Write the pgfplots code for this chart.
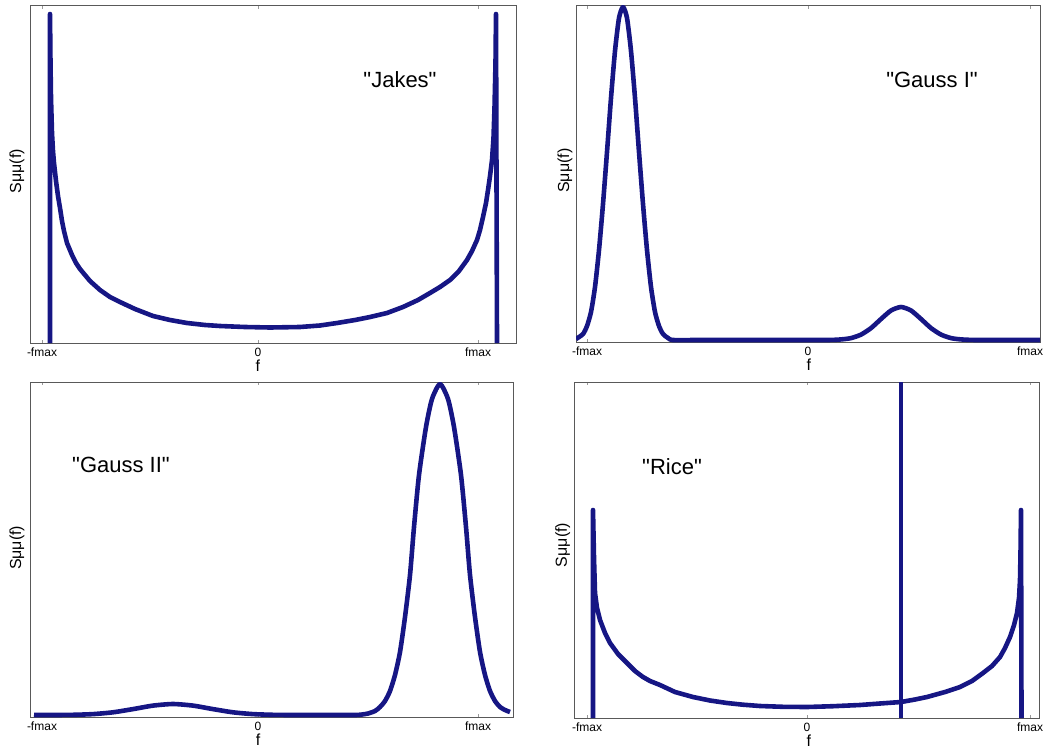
\documentclass[border=0pt]{standalone}
\usepackage{pgfplots}
\pgfplotsset{compat=1.18}
\usepackage{fontspec}
\setmainfont{Liberation Sans}
\newfontfamily\qf{Liberation Sans}
\definecolor{navy}{RGB}{22,22,132}
\newcommand{\q}{{\qf"}}
\pgfplotsset{
  panel/.style={
    scale only axis,
    axis line style={black!65, line width=0.5pt},
    ytick=\empty,
    xticklabels={-fmax,0,fmax},
    tick style={black!40, line width=0.4pt},
    major tick length=1.5pt,
    xticklabel style={font=\fontsize{6}{7}\selectfont, inner sep=1pt, yshift=-1.2pt},
    label style={font=\fontsize{8}{9}\selectfont},
    xlabel={f}, ylabel={Sμμ(f)},
    ymin=0,
    cycle list={{navy, line width=2.3pt, line join=round, mark=none}},
  },
}
\begin{document}
\begin{tikzpicture}
\useasboundingbox (0,0) rectangle (521.5pt,-374.5pt);
% Top left: Jakes
\begin{axis}[panel, anchor=south west, at={(15pt,-171.5pt)},
  width=243pt, height=168.5pt, xmin=30, xmax=516, ymax=337,
  xtick={42,258,478},
  xlabel style={at={(axis description cs:0.469,0)}, anchor=center, yshift=-11.5pt},
  ylabel style={at={(axis description cs:-0.027,0.51)}, anchor=center}]
\addplot[navy, line width=2.3pt, line join=round] coordinates {(50,0)(50,329)(50.5,280)(51,245)(52,210)(53,192)(54,180)(56,162)(58,147)(60,135)(62,122)(64,112)(67,100)(72,88)(76,80)(80,74)(85,68)(90,62)(100,53)(110,46)(120,41)(135,34)(153,27)(170,23)(187,20)(205,18)(220,17)(245,16)(270,15.5)(300,16)(320,17.5)(337,20)(355,23)(370,26)(387,30)(403,36)(418,43)(430,50)(440,56)(450,63)(459,72)(467,83)(472,92)(477,103)(480,113)(483,126)(486,140)(488,153)(490,167)(492,183)(493.5,205)(494.5,235)(495.5,280)(496,329)(497,0)};
\node[font=\fontsize{11}{13}\selectfont] at (axis cs:400,263) {\q Jakes\q};
\end{axis}
% Top right: Gauss I
\begin{axis}[panel, anchor=south west, at={(288pt,-171pt)},
  width=232pt, height=168pt, xmin=576, xmax=1040, ymax=336,
  xtick={587,808,1030},
  xlabel style={at={(axis description cs:0.502,0)}, anchor=center, yshift=-11.5pt},
  ylabel style={at={(axis description cs:-0.024,0.51)}, anchor=center}]
\addplot[navy, line width=2.3pt, line join=round, smooth, tension=0.4] coordinates {(576,3)(583,8)(587,16)(591,30)(595,55)(599,92)(603,138)(607,190)(611,244)(615,291)(619,324)(623,335)(627,324)(631,291)(635,244)(639,190)(643,138)(647,92)(651,55)(655,30)(659,16)(663,8)(668,4)(673,2)(700,2)(760,2)(826,2)(841,2.6)(851,3.9)(861,7.4)(871,13.9)(881,23)(891,31.5)(901,35)(911,31.5)(921,23)(931,13.9)(941,7.4)(951,3.9)(961,2.6)(976,2)(1010,2)(1040,2)};
\node[font=\fontsize{11}{13}\selectfont] at (axis cs:932,262) {\q Gauss I\q};
\end{axis}
% Bottom left: Gauss II
\begin{axis}[panel, anchor=south west, at={(15pt,-358.5pt)},
  width=241.5pt, height=167.5pt, xmin=30, xmax=513, ymax=335,
  xtick={42,258,478},
  xlabel style={at={(axis description cs:0.472,0)}, anchor=center, yshift=-11.5pt},
  ylabel style={at={(axis description cs:-0.027,0.505)}, anchor=center}]
\addplot[navy, line width=2.3pt, line join=round, smooth, tension=0.4] coordinates {(34,2)(53,2)(73,2.2)(93,2.9)(113,4.7)(133,7.9)(153,11.4)(173,13)(193,11.4)(213,7.9)(233,4.7)(253,2.9)(273,2.2)(293,2)(330,2)(355,2)(362,2.5)(368,3.5)(375,6)(380,10)(385,16)(390,26)(395,42)(400,65)(405,100)(410,142)(414,190)(419,242)(426,290)(432,318)(440,333)(448,318)(454,290)(461,242)(466,190)(470,142)(475,100)(480,65)(485,42)(490,26)(495,16)(500,10)(505,7)(510,5)};
\node[font=\fontsize{11}{13}\selectfont] at (axis cs:121,252) {\q Gauss II\q};
\end{axis}
% Bottom right: Rice
\begin{axis}[panel, anchor=south west, at={(287pt,-359pt)},
  width=232.5pt, height=168pt, xmin=574, xmax=1039, ymax=336,
  xtick={587,807,1030},
  xlabel style={at={(axis description cs:0.505,0)}, anchor=center, yshift=-11.5pt},
  ylabel style={at={(axis description cs:-0.024,0.515)}, anchor=center}]
\addplot[navy, line width=2.3pt, line join=round] coordinates {(593,0)(593,208)(594,160)(595,125)(597,110)(600,98)(605,85)(610,75)(618,64)(627,55)(635,47)(643,41)(650,37)(660,33)(675,26)(693,21)(710,17.5)(727,15)(743,13.3)(760,12)(783,11.2)(807,11)(833,11.8)(860,13)(880,14.5)(901,16)(915,18.5)(927,21)(945,26)(960,31)(972,37)(983,45)(992,52)(1000,61)(1005,70)(1010,81)(1014,93)(1017,105)(1019,120)(1020,138)(1020.5,165)(1021,208)(1021.5,0)};
\addplot[navy, line width=2.3pt] coordinates {(901,0)(901,336)};
\node[font=\fontsize{11}{13}\selectfont] at (axis cs:672,251) {\q Rice\q};
\end{axis}
\end{tikzpicture}
\end{document}
